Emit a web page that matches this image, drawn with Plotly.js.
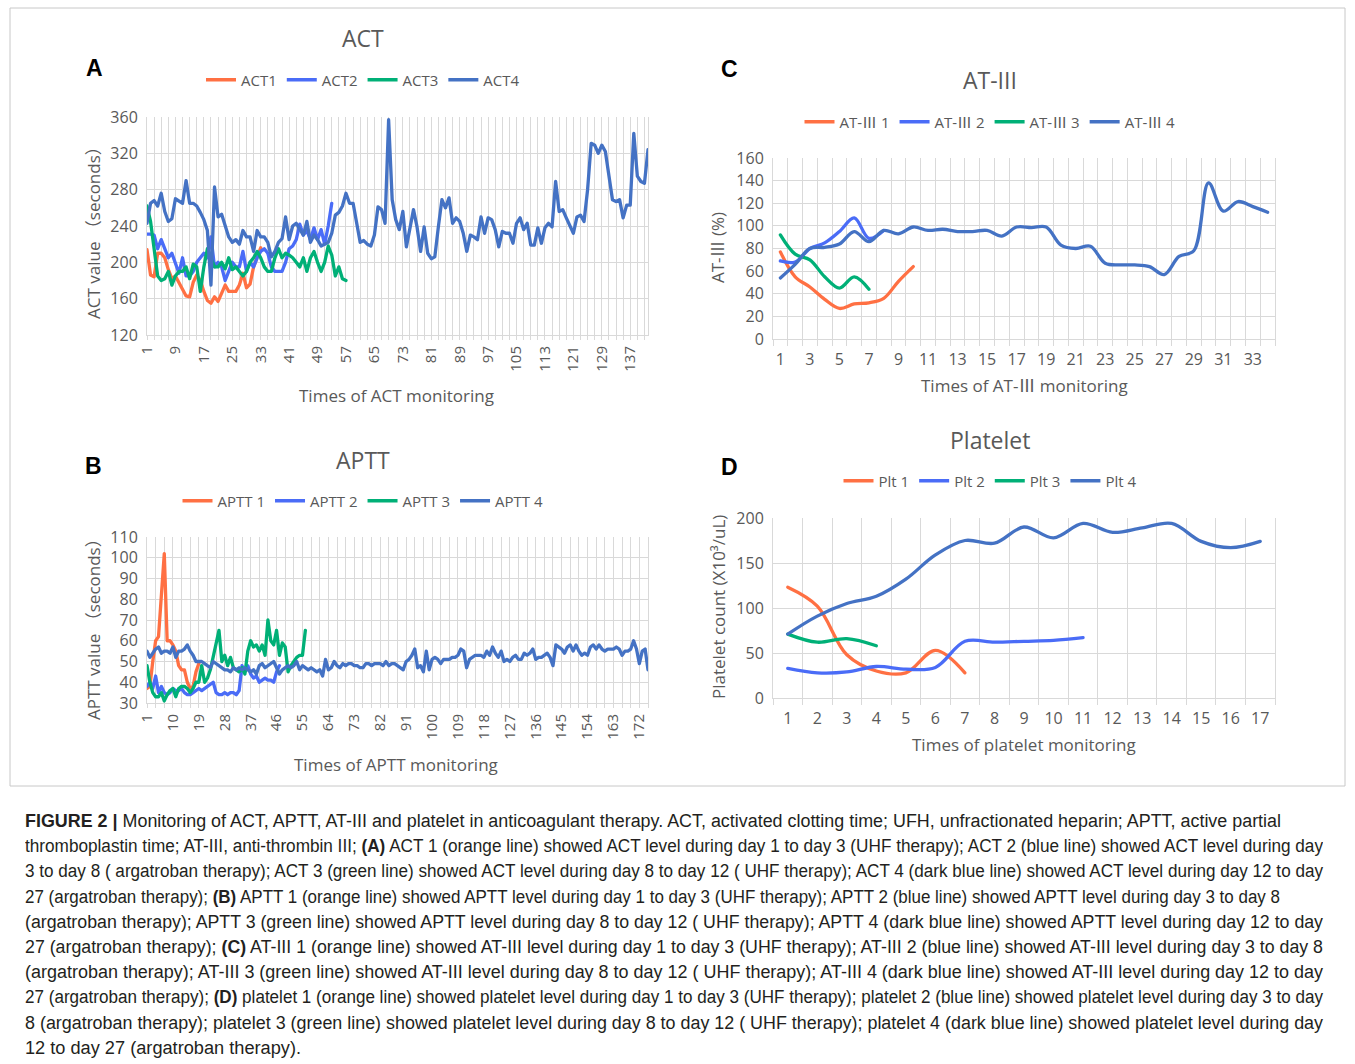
<!DOCTYPE html>
<html>
<head>
<meta charset="utf-8">
<script src="https://cdn.plot.ly/plotly-3.0.1.min.js"></script>
<style>
  html, body { margin: 0; padding: 0; background: #ffffff; }
  #wrap { position: relative; width: 1355px; height: 1064px; overflow: hidden; }
  #chart { position: absolute; left: 0; top: 0; width: 1355px; height: 1064px; }
  .scatterlayer .js-line { stroke-linejoin: round; stroke-linecap: round; }
  #caption { position: absolute; left: 25px; top: 809px; width: 1298px;
    font-family: "Liberation Sans", Arial, sans-serif;
    font-size: 18px; line-height: 25.2px; color: #231f20; }
  #caption div { white-space: nowrap; height: 25.2px; }
  #caption span.ln { display: inline-block; transform-origin: 0 50%; }
  #caption b { font-weight: bold; }
</style>
</head>
<body>
<div id="wrap">
<div id="chart"></div>
<div id="caption">
  <div data-w="1256"><span class="ln"><b>FIGURE 2 |</b> Monitoring of ACT, APTT, AT-III and platelet in anticoagulant therapy. ACT, activated clotting time; UFH, unfractionated heparin; APTT, active partial</span></div>
  <div data-w="1298"><span class="ln">thromboplastin time; AT-III, anti-thrombin III; <b>(A)</b> ACT 1 (orange line) showed ACT level during day 1 to day 3 (UHF therapy); ACT 2 (blue line) showed ACT level during day</span></div>
  <div data-w="1298"><span class="ln">3 to day 8 ( argatroban therapy); ACT 3 (green line) showed ACT level during day 8 to day 12 ( UHF therapy); ACT 4 (dark blue line) showed ACT level during day 12 to day</span></div>
  <div data-w="1255"><span class="ln">27 (argatroban therapy); <b>(B)</b> APTT 1 (orange line) showed APTT level during day 1 to day 3 (UHF therapy); APTT 2 (blue line) showed APTT level during day 3 to day 8</span></div>
  <div data-w="1298"><span class="ln">(argatroban therapy); APTT 3 (green line) showed APTT level during day 8 to day 12 ( UHF therapy); APTT 4 (dark blue line) showed APTT level during day 12 to day</span></div>
  <div data-w="1298"><span class="ln">27 (argatroban therapy); <b>(C)</b> AT-III 1 (orange line) showed AT-III level during day 1 to day 3 (UHF therapy); AT-III 2 (blue line) showed AT-III level during day 3 to day 8</span></div>
  <div data-w="1298"><span class="ln">(argatroban therapy); AT-III 3 (green line) showed AT-III level during day 8 to day 12 ( UHF therapy); AT-III 4 (dark blue line) showed AT-III level during day 12 to day</span></div>
  <div data-w="1298"><span class="ln">27 (argatroban therapy); <b>(D)</b> platelet 1 (orange line) showed platelet level during day 1 to day 3 (UHF therapy); platelet 2 (blue line) showed platelet level during day 3 to day</span></div>
  <div data-w="1298"><span class="ln">8 (argatroban therapy); platelet 3 (green line) showed platelet level during day 8 to day 12 ( UHF therapy); platelet 4 (dark blue line) showed platelet level during day</span></div>
  <div data-w="276"><span class="ln">12 to day 27 (argatroban therapy).</span></div>
</div>
</div>
<script>
// ---------------- DATA ----------------
// Panel A: ACT (seconds) per monitoring time
const act1 = [214,186,184,210,210,205,192,182,185,178,170,163,162,178,186,180,168,158,155,162,157,165,175,168,168,168,175,188,172,176,195,205,216];
const act2 = [231,231,230,215,225,215,205,210,200,188,205,185,185,190,200,205,210,205,228,195,200,195,180,190,200,195,195,212,190,200,195,205,212,215,210,195,190,190,190,200,215,218,225,242,230,235,225,238,225,236,220,240,265];
const act3 = [262,245,215,185,180,182,190,175,185,190,190,195,182,198,195,168,195,215,205,195,195,200,193,205,192,195,190,185,190,200,205,212,205,195,190,190,205,215,205,210,208,205,200,195,205,190,205,212,200,190,200,218,208,185,195,182,180];
const act4 = [243,265,268,262,276,256,245,248,270,267,265,290,265,265,262,255,247,235,175,283,
              250,253,240,228,222,225,220,235,228,228,212,235,228,228,222,206,212,222,226,250,
              225,240,243,236,230,245,222,230,225,218,220,222,232,252,255,262,276,265,265,245,
              222,224,220,218,230,261,258,243,357,269,247,236,256,217,238,258,239,212,239,210,
              204,206,239,269,260,271,243,249,245,232,212,230,228,225,250,232,249,247,236,217,
              234,232,232,221,243,249,236,243,219,219,238,221,238,243,239,289,256,258,249,241,
              232,250,252,245,280,331,329,320,329,322,298,269,267,269,249,263,263,342,295,289,
              287,324];
const actTicks = [1,9,17,25,33,41,49,57,65,73,81,89,97,105,113,121,129,137];

// Panel B: APTT (seconds)
const aptt1 = [37,38,50,60,62,80,102,60,60,58,55,48,46,46,40,37,38,45,49];
const aptt2 = [38,40,37,43,35,38,35,34,35,37,36,36,37,35,34,34,35,36,37,36,37,38,39,40,35,34,34,35,34,35,35,34,36,48,45,48,44,42,43,40,41,42,41,41,40,45,48];
const aptt3 = [48,40,35,33,33,35,31,34,36,37,33,37,38,38,37,35,37,40,40,48,40,42,46,53,58,65,50,53,48,52,47,46,45,47,44,55,60,57,58,55,58,53,70,60,58,65,53,59,57,45,48,50,52,53,53,65];
const aptt4 = [55,52,54,56,57,54,55,55,54,57,52,55,55,56,58,55,53,50,50,50,
               49,48,47,50,49,48,47,46,46,45,47,46,47,46,47,46,45,46,44,48,
               49,47,48,49,50,47,44,46,47,48,47,48,50,46,48,47,46,47,46,45,
               46,43,51,46,47,50,48,47,49,48,49,49,48,48,47,47,49,49,48,49,
               49,49,48,50,48,49,49,48,47,46,50,51,53,56,47,48,45,55,46,51,
               52,51,49,51,51,51,52,52,53,56,55,47,51,52,53,53,53,52,55,53,
               57,54,52,55,50,51,50,52,53,51,51,54,53,54,56,51,52,52,53,54,
               52,48,58,57,56,54,57,58,55,58,55,53,54,53,57,58,56,58,56,55,
               56,56,56,57,56,53,55,55,56,60,56,49,55,56,46];
const apttTicks = [1,10,19,28,37,46,55,64,73,82,91,100,109,118,127,136,145,154,163,172];

// Panel C: AT-III (%)
const at1 = [77,55,46,35,27,31,32,36,51,64];
const at2 = [69,68,80,85,95,107,89,96];
const at3 = [92,75,70,55,45,55,44];
const at4 = [54,66,80,81,84,95,86,96,93,99,96,97,95,95,96,91,99,98.5,99,83,80,82,67,65.5,65.5,64,57,73,78,138,113,121.5,117,112];
const atTicks = [1,3,5,7,9,11,13,15,17,19,21,23,25,27,29,31,33];

// Panel D: Platelet count (x10^3/uL)
const plt1 = [123,102,48,30,28,53,28];
const plt2 = [33,28,29,35,32,34,63,62,63,64,67];
const plt3 = [71,62,66,58];
const plt4 = [71,91,105,113,132,159,175,172,190,178,194,184,189,194,174,167,174];
const pltTicks = [1,2,3,4,5,6,7,8,9,10,11,12,13,14,15,16,17];

const seriesNames = {
  A: ['ACT1','ACT2','ACT3','ACT4'],
  B: ['APTT 1','APTT 2','APTT 3','APTT 4'],
  C: ['AT-Ⅲ 1','AT-Ⅲ 2','AT-Ⅲ 3','AT-Ⅲ 4'],
  D: ['Plt 1','Plt 2','Plt 3','Plt 4']
};

// ---------------- STYLE ----------------
const W = 1355, H = 1064;
const COLORS = ['#FF7043', '#4A6CF7', '#00B077', '#4472C4'];
const GRAY = '#595959';
const GRID = '#D9D9D9';
const FONT = '"Open Sans", "Noto Sans CJK SC", sans-serif';
const px = v => v / W;
const py = v => 1 - v / H;
const dx = (a, b) => [a / W, b / W];
const dy = (top, bottom) => [1 - bottom / H, 1 - top / H];

const idx = arr => arr.map((_, i) => i + 1);

function makeTraces(arrs, names, xa, ya, legend, spline) {
  return arrs.map((arr, k) => ({
    type: 'scatter', mode: 'lines',
    x: idx(arr), y: arr, name: names[k],
    xaxis: xa, yaxis: ya, legend: legend,
    line: { color: COLORS[k], width: 3.3, shape: spline ? 'spline' : 'linear', smoothing: 1 },
    hoverinfo: 'x+y'
  }));
}

const traces = [].concat(
  makeTraces([act1, act2, act3, act4], seriesNames.A, 'x', 'y', 'legend', false),
  makeTraces([aptt1, aptt2, aptt3, aptt4], seriesNames.B, 'x2', 'y2', 'legend2', false),
  makeTraces([at1, at2, at3, at4], seriesNames.C, 'x3', 'y3', 'legend3', true),
  makeTraces([plt1, plt2, plt3, plt4], seriesNames.D, 'x4', 'y4', 'legend4', true)
);

function catAxisRot(anchor, domain, range, ticks, minorDtick) {
  return {
    anchor: anchor, domain: domain, range: range, tickmode: 'array', tickvals: ticks, ticktext: ticks.map(String),
    tickangle: -90, tickfont: { size: 15, color: GRAY, family: FONT },
    showgrid: true, gridcolor: GRID, gridwidth: 1, zeroline: false,
    showline: true, linecolor: GRID, linewidth: 1,
    ticks: 'outside', ticklen: 4, tickcolor: GRID,
    minor: { tickmode: 'linear', tick0: 1, dtick: minorDtick, showgrid: true, gridcolor: GRID, gridwidth: 1, ticks: 'outside', ticklen: 4, tickcolor: GRID },
    fixedrange: true
  };
}
function catAxisBetween(anchor, domain, n, ticks) {
  return {
    anchor: anchor, domain: domain, range: [0.5, n + 0.5], tickmode: 'array', tickvals: ticks, ticktext: ticks.map(String),
    tickangle: 0, tickfont: { size: 16, color: GRAY, family: FONT },
    showgrid: false, zeroline: false, ticks: '', ticklabelstandoff: 6,
    showline: true, linecolor: GRID, linewidth: 1,
    minor: { tickmode: 'linear', tick0: 0.5, dtick: 1, showgrid: true, gridcolor: GRID, gridwidth: 1, ticks: 'outside', ticklen: 6, tickcolor: GRID },
    fixedrange: true
  };
}
function valAxis(anchor, domain, range, dtick, size) {
  return {
    anchor: anchor, domain: domain, range: range, tickmode: 'linear', tick0: range[0], dtick: dtick,
    tickfont: { size: size, color: GRAY, family: FONT }, ticklabelstandoff: 5,
    showgrid: true, gridcolor: GRID, gridwidth: 1, zeroline: false,
    showline: true, mirror: true, linecolor: GRID, linewidth: 1, ticks: '',
    fixedrange: true
  };
}

function legendAt(xc, yc) {
  return {
    orientation: 'h', x: px(xc), y: py(yc), xanchor: 'center', yanchor: 'middle',
    font: { size: 15, color: GRAY, family: FONT }, bgcolor: 'rgba(0,0,0,0)',
    itemwidth: 30, tracegroupgap: 0, itemclick: false, itemdoubleclick: false
  };
}

function ann(text, x, y, size, opts) {
  return Object.assign({
    text: text, x: px(x), y: py(y), xref: 'paper', yref: 'paper',
    xanchor: 'center', yanchor: 'middle', showarrow: false,
    font: { size: size, color: GRAY, family: FONT }
  }, opts || {});
}
const BOLD = { family: '"Liberation Sans", Arial, sans-serif', size: 23, color: '#000000' };

const layout = {
  width: W, height: H, margin: { l: 0, r: 0, t: 0, b: 0 },
  paper_bgcolor: '#ffffff', plot_bgcolor: '#ffffff',
  font: { family: FONT, color: GRAY },
  showlegend: true,
  xaxis: catAxisRot('y', dx(147, 648), [1, 142], actTicks, 2),
  yaxis: valAxis('x', dy(117, 335), [120, 360], 40, 16),
  xaxis2: catAxisRot('y2', dx(147, 648), [1, 175], apttTicks, 3),
  yaxis2: valAxis('x2', dy(537, 703), [30, 110], 10, 16),
  xaxis3: catAxisBetween('y3', dx(773, 1275), at4.length, atTicks),
  yaxis3: valAxis('x3', dy(158, 339), [0, 160], 20, 16),
  xaxis4: catAxisBetween('y4', dx(773, 1275), plt4.length, pltTicks),
  yaxis4: valAxis('x4', dy(518, 698), [0, 200], 50, 16),
  legend: legendAt(363, 80),
  legend2: legendAt(363, 501),
  legend3: legendAt(990, 122),
  legend4: legendAt(990, 481),
  shapes: [
    { type: 'rect', xref: 'paper', yref: 'paper', x0: px(10), x1: px(1345), y0: py(786), y1: py(8),
      line: { color: '#C8C8C8', width: 1 }, fillcolor: 'rgba(0,0,0,0)' }
  ],
  annotations: [
    ann('ACT', 363, 38, 23),
    ann('APTT', 363, 460, 23),
    ann('AT-III', 990, 80, 23),
    ann('Platelet', 990, 440, 23),
    ann('<b>A</b>', 95, 68, 23, { font: BOLD }),
    ann('<b>B</b>', 93, 466, 23, { font: BOLD }),
    ann('<b>C</b>', 729, 69, 23, { font: BOLD }),
    ann('<b>D</b>', 729, 467, 23, { font: BOLD }),
    ann('Times of ACT monitoring', 397, 396, 17),
    ann('Times of APTT monitoring', 396, 764, 17),
    ann('Times of AT-Ⅲ monitoring', 1024, 385, 17),
    ann('Times of platelet monitoring', 1024, 744, 17),
    ann('ACT value （seconds）', 93, 229, 17, { textangle: -90 }),
    ann('APTT value （seconds）', 93, 625, 17, { textangle: -90 }),
    ann('AT-Ⅲ (%)', 718, 248, 17, { textangle: -90 }),
    ann('Platelet count (X10³/uL)', 718, 607, 17, { textangle: -90 })
  ]
};

Plotly.newPlot('chart', traces, layout, { staticPlot: true, displayModeBar: false });

// fit each caption line to the width it occupies in the figure
document.querySelectorAll('#caption div[data-w]').forEach(function (d) {
  const span = d.querySelector('span.ln');
  const natural = span.getBoundingClientRect().width;
  const target = parseFloat(d.getAttribute('data-w'));
  if (natural > 0) span.style.transform = 'scaleX(' + (target / natural) + ')';
});
</script>
</body>
</html>
